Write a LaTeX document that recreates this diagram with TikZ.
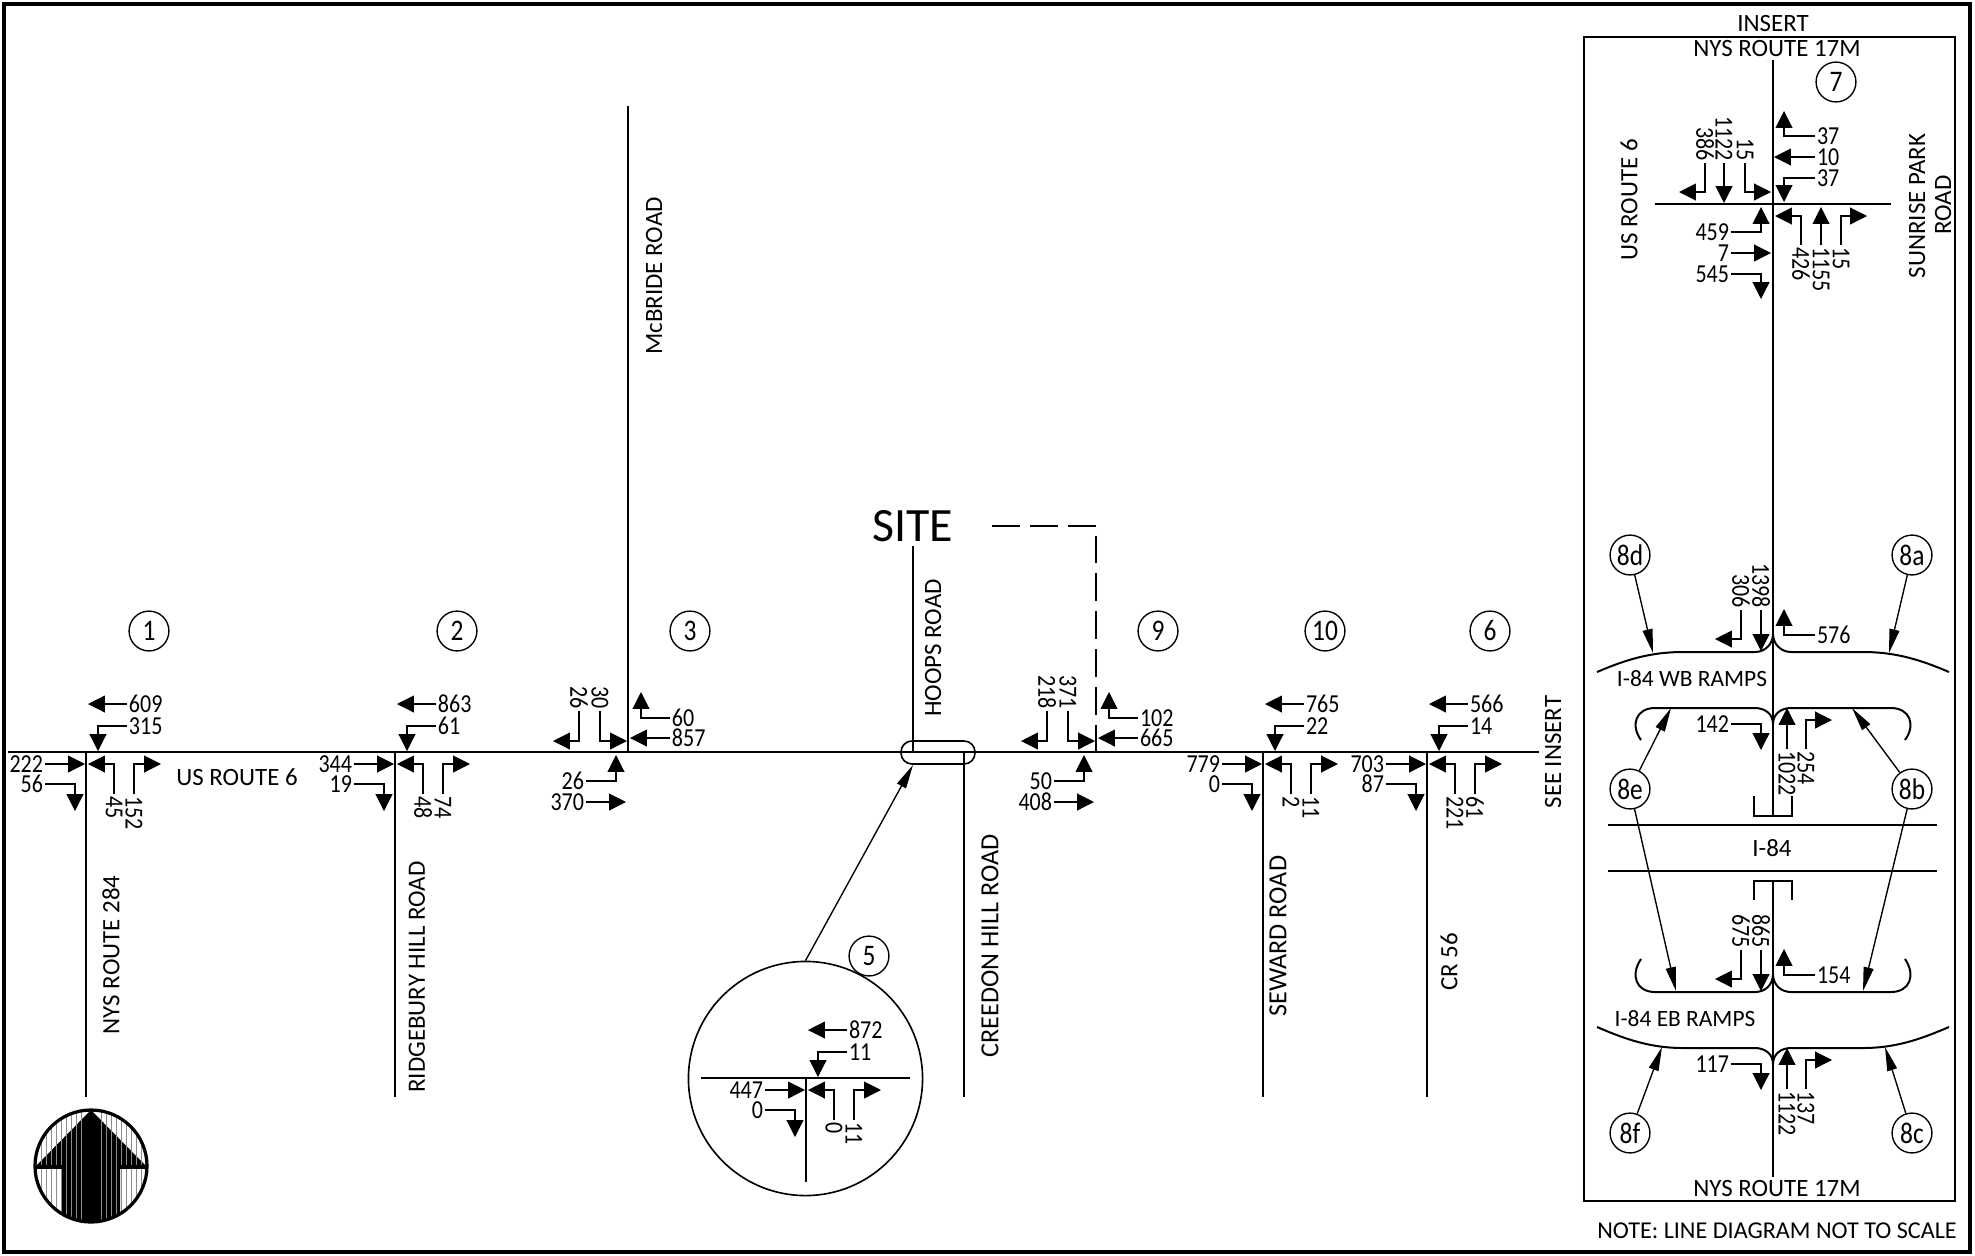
\documentclass[tikz,border=0pt]{standalone}
\usepackage{fontspec}
\setmainfont{Carlito}
\newfontfamily\numfont[FakeStretch=0.85]{Carlito}
\usetikzlibrary{arrows.meta, positioning}
\tikzset{
  road/.style={line width=0.8pt},
  mv/.style={line width=0.45pt, -{Triangle[length=6.8pt,width=6.8pt]}},
  ptr/.style={line width=0.55pt, -{Triangle[length=9.6pt,width=4pt]}},
  vol/.style={inner sep=0.6pt, font=\numfont\fontsize{10.4}{10.4}\selectfont},
  volr/.style={vol, rotate=-90},
  rdlabel/.style={inner sep=0pt, font=\fontsize{10}{10}\selectfont},
  rdwide/.style={inner sep=0pt, font=\fontsize{10.5}{10.5}\selectfont},
  rdtight/.style={inner sep=0pt, font=\fontsize{9.4}{9.4}\selectfont},
  tag/.style={circle, draw, line width=0.55pt, minimum size=16pt, inner sep=0pt,
    font=\numfont\fontsize{12}{12}\selectfont},
}
\begin{document}
\begin{tikzpicture}[x=0.4bp,y=-0.4bp]
  \useasboundingbox (0,0) rectangle (1975,1255);
  \draw[line width=1.6pt] (4,4) rectangle (1970,1252);

  % streets
  \draw[road] (8,752) -- (1539,752);
  \foreach \sx in {86,395,1263,1427,964}
    \draw[road] (\sx,752) -- (\sx,1097);
  \draw[road] (628,106) -- (628,752);
  \draw[road] (913,546) -- (913,752);
  \draw[line width=0.65pt, dash pattern=on 11.2pt off 4pt] (992,526) -- (1096,526) -- (1096,752);
  \draw[line width=0.65pt, rounded corners=4.4pt] (901,741) rectangle (975,764);
  \coordinate (sitept) at (913,765);

  % approaches with the leg to the south
  \foreach \px/\py/\a/\b/\c/\d/\e/\f in {86/752/609/315/222/56/45/152,
      395/752/863/61/344/19/48/74,
      1263/752/765/22/779/0/2/11,
      1427/752/566/14/703/87/221/61,
      806/1078/872/11/447/0/0/11} {
    \begin{scope}[shift={(\px,\py)}]
      \node[vol, anchor=west] (wt\px) at (41,-48) {\a};
      \draw[mv] (wt\px.west) -- (2,-48);
      \node[vol, anchor=west] (wl\px) at (41,-26) {\b};
      \draw[mv] (wl\px.west) -| (12,-1);
      \node[vol, anchor=east] (et\px) at (-41,12) {\c};
      \draw[mv] (et\px.east) -- (-1,12);
      \node[vol, anchor=east] (er\px) at (-41,32) {\d};
      \draw[mv] (er\px.east) -| (-11,59);
      \node[volr, anchor=west] (nl\px) at (28,42) {\e};
      \draw[mv] (nl\px.west) |- (2,12);
      \node[volr, anchor=west] (nr\px) at (48,42) {\f};
      \draw[mv] (nr\px.west) |- (75,12);
    \end{scope}
  }

  % approaches with the leg to the north
  \foreach \px/\a/\b/\c/\d/\e/\f in {628/26/30/60/857/26/370,
      1096/218/371/102/665/50/408} {
    \begin{scope}[shift={(\px,752)}]
      \node[volr, anchor=east] (sl\px) at (-49,-41) {\a};
      \draw[mv] (sl\px.east) |- (-75,-11);
      \node[volr, anchor=east] (sr\px) at (-28,-41) {\b};
      \draw[mv] (sr\px.east) |- (-1,-11);
      \node[vol, anchor=west] (wr\px) at (42,-34) {\c};
      \draw[mv] (wr\px.west) -| (13,-60);
      \node[vol, anchor=west] (wt\px) at (42,-14) {\d};
      \draw[mv] (wt\px.west) -- (2,-14);
      \node[vol, anchor=east] (el\px) at (-42,29) {\e};
      \draw[mv] (el\px.east) -| (-12,3);
      \node[vol, anchor=east] (et\px) at (-42,50) {\f};
      \draw[mv] (et\px.east) -- (-2,50);
    \end{scope}
  }

  % numbered circles
  \foreach \px/\n in {149/1, 457/2, 690/3, 1158/9, 1325/10, 1490/6}
    \node[tag] (int\n) at (\px,631) {\n};

  % road names
  \node[rdlabel] (rt6) at (237,777) {US ROUTE 6};
  \node[rdlabel, rotate=90] (rt284) at (111,955) {NYS ROUTE 284};
  \node[rdlabel, rotate=90] (ridge) at (417,977) {RIDGEBURY HILL ROAD};
  \node[rdlabel, rotate=90] (mcb) at (654,276) {McBRIDE ROAD};
  \node[rdlabel, rotate=90] (hoops) at (933,648) {HOOPS ROAD};
  \node[rdwide, rotate=90] (creed) at (990,946) {CREEDON HILL ROAD};
  \node[rdwide, rotate=90] (seward) at (1278,936) {SEWARD ROAD};
  \node[rdlabel, rotate=90] (cr56) at (1449,962) {CR 56};
  \node[rdlabel, rotate=90] (seeins) at (1553,752) {SEE INSERT};
  \node[inner sep=0pt, font=\fontsize{19.2}{19.2}\selectfont] (site) at (913,526) {SITE};

  % enlarged view
  \node[circle, draw, line width=0.65pt, minimum size=94pt, inner sep=0pt] (lens) at (805.5,1078.5) {};
  \draw[road] (701,1078) -- (910,1078);
  \draw[road] (806,1078) -- (806,1182);
  \node[tag] (int5) at (869,956) {5};
  \draw[ptr] (lens.north) -- (sitept);

  % north arrow
  \begin{scope}
    \clip (91,1166) circle (56);
    \fill (91,1110) -- (147,1167) -- (120,1167) -- (120,1225) -- (62,1225)
      -- (62,1167) -- (35,1167) -- cycle;
    \foreach \sx in {41,46,...,81,101,106,...,141}
      \draw[white!55!black, line width=0.2pt] (\sx,1112) -- (\sx,1222);
  \end{scope}
  \draw[line width=1.3pt] (91,1166) circle (56);
  \draw[line width=1.3pt] (35,1167) -- (62,1167);
  \draw[line width=1.3pt] (120,1167) -- (147,1167);

  % insert
  \draw[line width=0.65pt] (1584,37) rectangle (1955,1201);
  \node[rdlabel] (institle) at (1773,23) {INSERT};
  \node[rdlabel] (r17top) at (1777,49) {NYS ROUTE 17M};
  \node[rdlabel] (r17bot) at (1777,1188) {NYS ROUTE 17M};
  \node[inner sep=0pt, font=\fontsize{9.7}{9.7}\selectfont] (note) at (1777,1231) {NOTE: LINE DIAGRAM NOT TO SCALE};
  \draw[road] (1773,60) -- (1773,816);
  \draw[road] (1773,881) -- (1773,1177);
  \draw[road] (1655,204) -- (1891,204);
  \node[tag] (int7) at (1836,82) {7};
  \node[rdlabel, rotate=90] (ins6) at (1629,200) {US ROUTE 6};
  \node[rdlabel, rotate=90] (sunr) at (1917,206) {SUNRISE PARK};
  \node[rdlabel, rotate=90] (sunrb) at (1943,205) {ROAD};

  \begin{scope}[shift={(1773,204)}]
    \node[volr, anchor=east] (sa) at (-68,-41) {386};
    \draw[mv] (sa.east) |- (-94,-12);
    \node[volr, anchor=east] (sb) at (-49,-41) {1122};
    \draw[mv] (sb.east) -- (-49,-1);
    \node[volr, anchor=east] (sc) at (-28,-41) {15};
    \draw[mv] (sc.east) |- (-2,-12);
    \node[vol, anchor=west] (wa) at (42,-68) {37};
    \draw[mv] (wa.west) -| (11,-93);
    \node[vol, anchor=west] (wb) at (42,-47) {10};
    \draw[mv] (wb.west) -- (1,-47);
    \node[vol, anchor=west] (wc) at (42,-26) {37};
    \draw[mv] (wc.west) -| (11,-2);
    \node[vol, anchor=east] (ea) at (-42,28) {459};
    \draw[mv] (ea.east) -| (-12,3);
    \node[vol, anchor=east] (eb) at (-42,49) {7};
    \draw[mv] (eb.east) -- (-2,49);
    \node[vol, anchor=east] (ec) at (-42,70) {545};
    \draw[mv] (ec.east) -| (-12,95);
    \node[volr, anchor=west] (na) at (28,41) {426};
    \draw[mv] (na.west) |- (2,12);
    \node[volr, anchor=west] (nb) at (48,41) {1155};
    \draw[mv] (nb.west) -- (48,3);
    \node[volr, anchor=west] (nc) at (68,41) {15};
    \draw[mv] (nc.west) |- (94,12);
  \end{scope}

  % ramps
  \draw[road] (1597,672) .. controls (1625,660) and (1650,652) .. (1683,652) -- (1755,652)
    .. controls (1765,652) and (1773,644) .. (1773,634)
    .. controls (1773,644) and (1781,652) .. (1791,652) -- (1863,652)
    .. controls (1896,652) and (1921,660) .. (1949,672);
  \draw[road] (1641,740) .. controls (1630,725) and (1636,708) .. (1655,708) -- (1755,708)
    .. controls (1765,708) and (1773,714) .. (1773,724)
    .. controls (1773,714) and (1781,708) .. (1791,708) -- (1891,708)
    .. controls (1910,708) and (1916,725) .. (1905,740);
  \draw[road] (1641,959) .. controls (1630,975) and (1636,992) .. (1655,992) -- (1755,992)
    .. controls (1765,992) and (1773,985) .. (1773,974)
    .. controls (1773,985) and (1781,992) .. (1791,992) -- (1891,992)
    .. controls (1910,992) and (1916,975) .. (1905,959);
  \draw[road] (1597,1027) .. controls (1625,1039) and (1650,1048) .. (1683,1048) -- (1755,1048)
    .. controls (1765,1048) and (1773,1054) .. (1773,1064)
    .. controls (1773,1054) and (1781,1048) .. (1791,1048) -- (1863,1048)
    .. controls (1896,1048) and (1921,1039) .. (1949,1027);
  \node[rdtight] (wbramps) at (1692,679) {I-84 WB RAMPS};
  \node[rdtight] (ebramps) at (1685,1019) {I-84 EB RAMPS};

  \foreach \py/\a/\b/\c in {652/306/1398/576, 992/675/865/154} {
    \begin{scope}[shift={(1773,\py)}]
      \node[volr, anchor=east] (ra\py) at (-32,-42) {\a};
      \draw[mv] (ra\py.east) |- (-58,-13);
      \node[volr, anchor=east] (rb\py) at (-12,-42) {\b};
      \draw[mv] (rb\py.east) -- (-12,-1);
      \node[vol, anchor=west] (rc\py) at (42,-17) {\c};
      \draw[mv] (rc\py.west) -| (11,-43);
    \end{scope}
  }
  \foreach \py/\a/\b/\c in {708/142/1022/254, 1048/117/1122/137} {
    \begin{scope}[shift={(1773,\py)}]
      \node[vol, anchor=east] (ra\py) at (-42,16) {\a};
      \draw[mv] (ra\py.east) -| (-12,42);
      \node[volr, anchor=west] (rb\py) at (14,41) {\b};
      \draw[mv] (rb\py.west) -- (14,0);
      \node[volr, anchor=west] (rc\py) at (33,41) {\c};
      \draw[mv] (rc\py.west) |- (59,12);
    \end{scope}
  }

  % I-84 overpass
  \draw[road] (1608,825) -- (1937,825);
  \draw[road] (1608,871) -- (1937,871);
  \node[rdlabel] (i84) at (1772,848) {I-84};
  \draw[road] (1754,796) -- (1754,816) -- (1792,816) -- (1792,796);
  \draw[road] (1754,900) -- (1754,881) -- (1792,881) -- (1792,900);

  % ramp tags
  \foreach \px/\py/\n/\tx/\ty in {1630/555/8d/1653/653, 1912/555/8a/1889/653,
      1630/789/8e/1671/708, 1912/789/8b/1852/708,
      1630/1133/8f/1662/1047, 1912/1133/8c/1885/1047} {
    \node[tag] (t\n) at (\px,\py) {\n};
    \coordinate (p\n) at (\tx,\ty);
    \draw[ptr] (t\n) -- (p\n);
  }
  \coordinate (pe2) at (1676,991);
  \coordinate (pb2) at (1863,991);
  \draw[ptr] (t8e) -- (pe2);
  \draw[ptr] (t8b) -- (pb2);
\end{tikzpicture}
\end{document}
